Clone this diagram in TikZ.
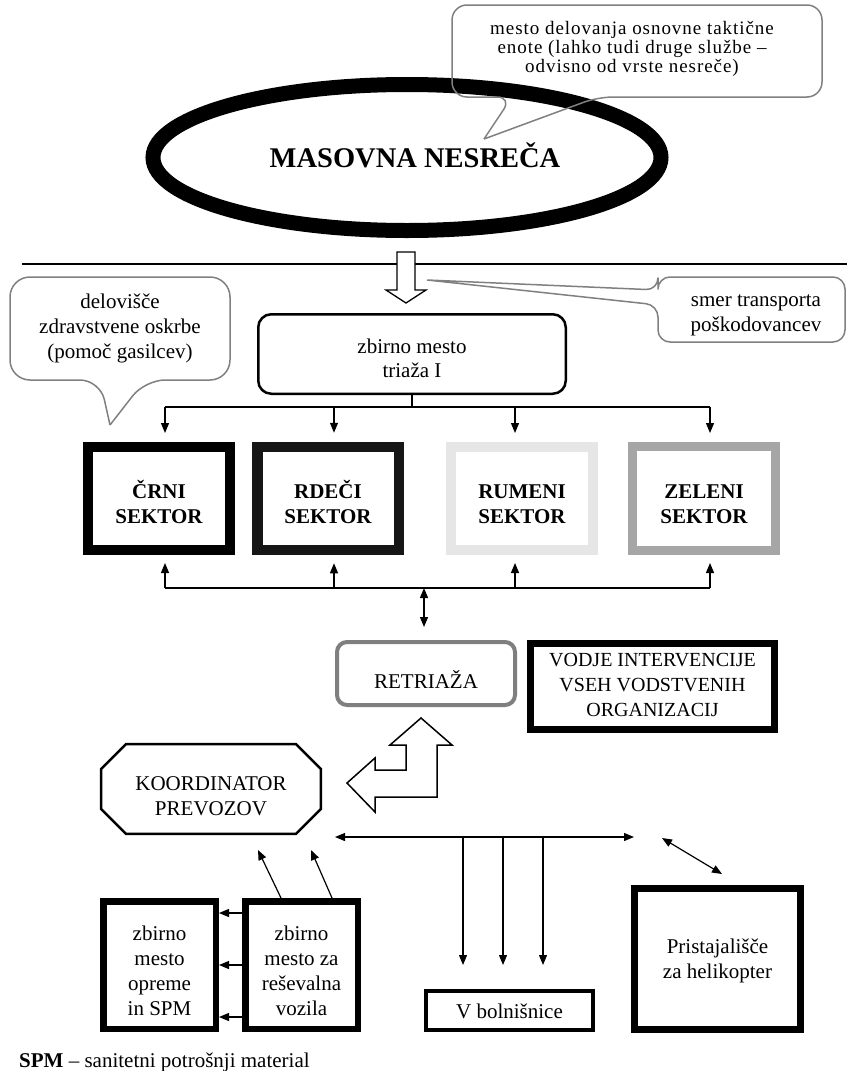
\documentclass[tikz,border=0pt]{standalone}
\usepackage{fontspec}
\setmainfont{Liberation Serif}
\newfontfamily\spacedserif[LetterSpace=5]{Liberation Serif}
\usetikzlibrary{shapes.geometric,arrows.meta}
\newcommand{\mytx}[2]{\raisebox{#1}[\height][\depth]{\begin{tabular}{@{}c@{}}#2\end{tabular}}}
\definecolor{callgray}{HTML}{808080}
\definecolor{rdeci}{HTML}{161616}
\definecolor{rumeni}{HTML}{E6E6E6}
\definecolor{zeleni}{HTML}{A6A6A6}
\definecolor{retgray}{HTML}{7F7F7F}
\tikzset{
  callout/.style={draw=callgray, line width=1.5pt, line join=round},
  conn/.style={line width=1.2pt},
  arr/.style={line width=1.2pt, -{Triangle[length=10pt,width=8pt]}},
  darr/.style={line width=1.2pt, {Triangle[length=10pt,width=8pt]}-{Triangle[length=10pt,width=8pt]}},
  sector/.style={draw, rectangle, inner sep=0pt, font=\fontsize{21}{25}\selectfont\bfseries},
  box/.style={draw, rectangle, inner sep=0pt, font=\fontsize{21}{25}\selectfont},
  blockarrow/.style={draw, fill=white, line width=1.5pt, line join=miter},
  txt/.style={inner sep=0pt, font=\fontsize{21}{25}\selectfont}
}
\begin{document}
\begin{tikzpicture}[x=1pt,y=-1pt]
\fill[white] (0,0) rectangle (847,1071);
\useasboundingbox (0,0) rectangle (847,1071);

% ellipse
\node[ellipse, draw, line width=15pt, minimum width=508pt, minimum height=146pt, inner sep=0pt,
      font=\fontsize{28.5}{30}\selectfont\bfseries, text height=19pt, text depth=0pt]
  (ell) at (407,157.5) {\hspace*{16pt}MASOVNA NESREČA};

% top callout
\draw[callout, rounded corners=15pt] (484,139) -- (598,97) -- (822,97) -- (822,5) -- (452,5) -- (452,97) -- (512,97) [sharp corners] -- (484,139);
\node[inner sep=0pt, font=\spacedserif\fontsize{19}{18.3}\selectfont] (c1) at (632,49.6)
  {\mytx{0pt}{mesto delovanja osnovne taktične\\enote (lahko tudi druge službe –\\odvisno od vrste nesreče)}};

% separator line
\draw[conn] (22,264) -- (847,264);

% down block arrow
\draw[blockarrow, line width=1.3pt] (397,252) -- (415,252) -- (415,290) -- (426,290) -- (406,303) -- (386,290) -- (397,290) -- cycle;

% right callout
\draw[callout, rounded corners=12pt] (427,280) -- (658,305) -- (658,342) -- (845,342) -- (845,277) -- (658,277) -- (658,290) [sharp corners] -- (427,280);
\node[txt] (c2) at (756,313.8) {\mytx{0pt}{smer transporta\\poškodovancev}};

% left callout
\draw[callout, rounded corners=20pt] (110,425) -- (145,380) -- (230,380) -- (230,277) -- (10,277) -- (10,380) -- (100,380) [sharp corners] -- (110,425);
\node[txt] (c3) at (120,328) {\mytx{0pt}{delovišče\\zdravstvene oskrbe\\(pomoč gasilcev)}};

% triaza
\node[draw, rounded corners=13pt, line width=2.5pt, minimum width=307.5pt, minimum height=79.5pt, inner sep=0pt,
      font=\fontsize{21}{24}\selectfont] (tri) at (412,354) {\mytx{-6.2pt}{zbirno mesto\\triaža I}};

% sectors
\node[sector, line width=10pt, minimum width=142pt, minimum height=103pt] (crni) at (159,498.5) {\mytx{-7pt}{ČRNI\\SEKTOR}};
\node[sector, draw=rdeci, line width=10.5pt, minimum width=141.5pt, minimum height=103pt] (rdec) at (328,498.5) {\mytx{-7pt}{RDEČI\\SEKTOR}};
\node[sector, draw=rumeni, line width=10pt, minimum width=142pt, minimum height=103pt] (rum) at (522,498.5) {\mytx{-7pt}{RUMENI\\SEKTOR}};
\node[sector, draw=zeleni, line width=9pt, minimum width=143pt, minimum height=104pt] (zel) at (704,498.5) {\mytx{-7pt}{ZELENI\\SEKTOR}};

% tree from triaza
\coordinate (bj) at (412,407);
\coordinate (b1) at (165,407);
\coordinate (b2) at (334,407);
\coordinate (b3) at (515,407);
\coordinate (b4) at (710,407);
\draw[conn] (tri.south) -- (bj);
\draw[conn] (b1) -- (b4);
\draw[arr, shorten >=9pt] (b1) -- (b1 |- crni.north);
\draw[arr, shorten >=9pt] (b2) -- (b2 |- rdec.north);
\draw[arr, shorten >=9pt] (b3) -- (b3 |- rum.north);
\draw[arr, shorten >=9pt] (b4) -- (b4 |- zel.north);

% bus below sectors
\coordinate (u1) at (165,588);
\coordinate (u2) at (334,588);
\coordinate (u3) at (515,588);
\coordinate (u4) at (710,588);
\coordinate (uc) at (424,588);
\draw[conn] (u1) -- (u4);
\draw[arr, shorten >=8pt] (u1) -- (u1 |- crni.south);
\draw[arr, shorten >=8pt] (u2) -- (u2 |- rdec.south);
\draw[arr, shorten >=8pt] (u3) -- (u3 |- rum.south);
\draw[arr, shorten >=8pt] (u4) -- (u4 |- zel.south);

% retriaza and vodje
\node[box, draw=retgray, rounded corners=10pt, line width=4pt, minimum width=178pt, minimum height=63pt] (ret) at (426,673.5) {\mytx{-9.5pt}{RETRIAŽA}};
\draw[darr, shorten >=13pt] (uc) -- (uc |- ret.north);
\node[box, line width=7pt, minimum width=244pt, minimum height=86pt, font=\fontsize{20}{25}\selectfont] (vod) at (652.5,686.5)
  {\mytx{0pt}{VODJE INTERVENCIJE\\VSEH VODSTVENIH\\ORGANIZACIJ}};

% koordinator octagon
\node[rectangle, inner sep=0pt, minimum width=219.5pt, minimum height=89.5pt, font=\fontsize{21}{25}\selectfont] (koord) at (211,789)
  {\mytx{-8.5pt}{KOORDINATOR\\PREVOZOV}};
\draw[line width=2.5pt, line join=miter] ([xshift=25pt]koord.north west) -- ([xshift=-25pt]koord.north east) -- ([yshift=-25pt]koord.north east)
  -- ([yshift=25pt]koord.south east) -- ([xshift=-25pt]koord.south east) -- ([xshift=25pt]koord.south west)
  -- ([yshift=25pt]koord.south west) -- ([yshift=-25pt]koord.north west) -- cycle;

% bent double block arrow
\draw[blockarrow] (421,718) -- (452,745) -- (437,745) -- (437,797) -- (375,797) -- (375,812) -- (347,783)
  -- (375,758) -- (375,770) -- (406,770) -- (406,745) -- (390,745) -- cycle;

% lower nodes
\node[box, line width=4pt, minimum width=167pt, minimum height=39pt] (bol) at (509.5,1010.5) {\mytx{-2.5pt}{V bolnišnice}};
\node[box, line width=7pt, minimum width=166pt, minimum height=141pt] (heli) at (717.5,959) {\mytx{-1.5pt}{Pristajališče\\za helikopter}};
\node[box, line width=6.5pt, minimum width=112.5pt, minimum height=127.5pt] (opr) at (159.5,965) {\mytx{-7.5pt}{zbirno\\mesto\\opreme\\in SPM}};
\node[box, line width=6.5pt, minimum width=112.5pt, minimum height=127.5pt] (res) at (301.5,965) {\mytx{-7.5pt}{zbirno\\mesto za\\reševalna\\vozila}};

% horizontal double arrow and branches
\coordinate (hl) at (335,837);
\coordinate (hr) at (634,837);
\coordinate (v1) at (463,837);
\coordinate (v2) at (503,837);
\coordinate (v3) at (543,837);
\draw[darr] (hl) -- (hr);
\draw[arr, shorten >=24pt] (v1) -- (v1 |- bol.north);
\draw[arr, shorten >=24pt] (v2) -- (v2 |- bol.north);
\draw[arr, shorten >=24pt] (v3) -- (v3 |- bol.north);

% helicopter arrow
\coordinate (h1) at (662,838);
\coordinate (h2) at (722,874);
\draw[darr] (h1) -- (h2);

% res -> opr arrows
\draw[arr] (res.west |- 0,913) -- (opr.east |- 0,913);
\draw[arr] (res.west |- 0,965) -- (opr.east |- 0,965);
\draw[arr] (res.west |- 0,1017) -- (opr.east |- 0,1017);

% res -> koordinator arrows
\coordinate (k1) at (258,850);
\coordinate (k2) at (311,850);
\draw[arr] (281,0 |- res.north) -- (k1);
\draw[arr] (332,0 |- res.north) -- (k2);

% legend
\node[anchor=base west, inner sep=0pt, font=\fontsize{21}{25}\selectfont] (spm) at (19,1067) {\textbf{SPM} – sanitetni potrošnji material};
\end{tikzpicture}
\end{document}
